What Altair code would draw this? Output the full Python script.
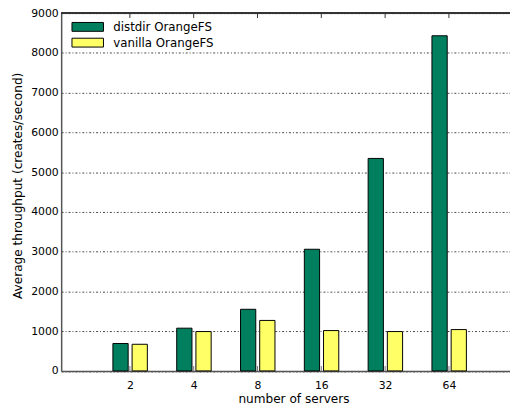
import json
import altair as alt
import pandas as pd

servers = ["2", "4", "8", "16", "32", "64"]
distdir = [690, 1075, 1550, 3060, 5345, 8430]
vanilla = [670, 990, 1270, 1015, 990, 1040]
series_names = ["distdir OrangeFS", "vanilla OrangeFS"]
series_colors = ["#007F5F", "#FFFF66"]

rows = []
for i, s in enumerate(servers):
    rows.append({"pos": i + 1, "servers": s, "series": series_names[0], "value": distdir[i]})
    rows.append({"pos": i + 1, "servers": s, "series": series_names[1], "value": vanilla[i]})
df = pd.DataFrame(rows)

W, H = 456, 363.5
FONT = "DejaVu Sans"
label_expr = json.dumps(servers) + "[datum.value - 1]"

xscale = alt.Scale(domain=[0, 6.88], nice=False, zero=False)
yscale = alt.Scale(domain=[0, 9000], nice=False)

color = alt.Color(
    "series:N",
    scale=alt.Scale(domain=series_names, range=series_colors),
    legend=alt.Legend(
        title=None,
        orient="none",
        legendX=21,
        legendY=8,
        symbolType="M-3.556,-1H3.556V1H-3.556Z",
        symbolSize=81,
        symbolStrokeColor="black",
        symbolStrokeWidth=1,
        symbolOpacity=1,
        labelFont=FONT,
        labelFontSize=12,
        labelColor="black",
        labelOffset=20,
        rowPadding=2,
    ),
)

base = alt.Chart(df)

x_bottom = alt.X(
    "pos:Q",
    scale=xscale,
    axis=alt.Axis(
        values=[i + 1 for i in range(len(servers))],
        labelExpr=label_expr,
        title="number of servers",
        titleFont=FONT,
        titleFontSize=12.3,
        titleFontWeight="normal",
        titleColor="black",
        titleX=236,
        titlePadding=2,
        labelFont=FONT,
        labelFontSize=11,
        labelColor="black",
        labelPadding=9,
        ticks=False,
        grid=False,
        domainColor="#555555",
        domainWidth=1.5,
    ),
)

y_axis = alt.Y(
    "value:Q",
    scale=yscale,
    axis=alt.Axis(
        values=list(range(0, 9001, 1000)),
        format="d",
        title="Average throughput (creates/second)",
        titleFont=FONT,
        titleFontSize=12.3,
        titleFontWeight="normal",
        titleColor="black",
        titleY=175,
        titlePadding=6,
        labelFont=FONT,
        labelFontSize=11,
        labelColor="black",
        labelPadding=3,
        ticks=False,
        grid=True,
        gridColor="#444444",
        gridDash=[2, 2, 1, 2],
        gridWidth=1,
        domainColor="#555555",
        domainWidth=1.5,
    ),
)

bars_d = base.transform_filter(alt.datum.series == series_names[0]).mark_bar(
    width=15.5, xOffset=-9.5, stroke="black", strokeWidth=1
).encode(x=x_bottom, y=y_axis, color=color)

bars_v = base.transform_filter(alt.datum.series == series_names[1]).mark_bar(
    width=15.5, xOffset=10, stroke="black", strokeWidth=1
).encode(x=alt.X("pos:Q", scale=xscale), y=alt.Y("value:Q", scale=yscale), color=color)

tick_data = pd.DataFrame({"pos": [i + 1 for i in range(len(servers))]})
top_ticks = alt.Chart(tick_data).mark_rule(color="#333333", strokeWidth=1).encode(
    x=alt.X("pos:Q", scale=xscale), y=alt.value(0), y2=alt.value(5)
)
bottom_ticks = alt.Chart(tick_data).mark_rule(color="#777777", strokeWidth=1).encode(
    x=alt.X("pos:Q", scale=xscale), y=alt.value(H), y2=alt.value(H - 5)
)
top_line = alt.Chart(tick_data).mark_rule(color="#333333", strokeWidth=1.2).encode(
    x=alt.value(0), x2=alt.value(W), y=alt.value(0)
)

chart = alt.layer(bars_d, bars_v, bottom_ticks, top_ticks, top_line).properties(
    width=W,
    height=H,
    autosize=alt.AutoSizeParams(type="none"),
    padding={"left": 54, "top": 2, "right": 0, "bottom": 36},
).configure_view(stroke=None).configure(background="white")

chart.save("out.html", embed_options={"renderer": "svg", "actions": False})
